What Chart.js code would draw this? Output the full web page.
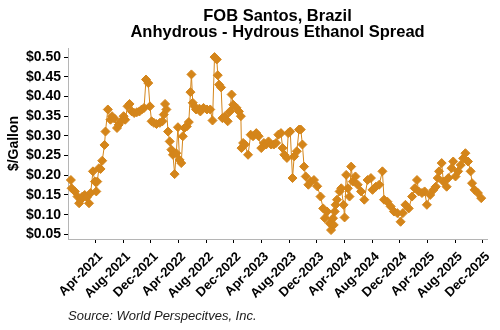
<!DOCTYPE html>
<html><head><meta charset="utf-8">
<script src="https://cdn.jsdelivr.net/npm/chart.js@4"></script>
<style>html,body{margin:0;padding:0;background:#fff}#wrap{width:500px;height:330px}</style>
</head><body><div id="wrap"><canvas id="c" width="500" height="330"></canvas></div>
<script>
const titleLines = ['FOB Santos, Brazil', 'Anhydrous - Hydrous Ethanol Spread'];
const yAxisTitle = '$/Gallon';
const sourceNote = 'Source: World Perspecitves, Inc.';

// x position of each observation, in months since 1 Jan 2021
const monthPos = [
 -0.58,-0.48,-0.01,0.37,0.61,0.85,1.09,1.42,1.71,2.04,2.28,2.61,2.90,3.09,3.23,3.47,3.71,3.95,4.28,4.42,
 4.76,5.14,5.37,5.71,6.09,6.33,6.66,7.04,7.28,7.61,7.90,8.23,8.57,8.95,9.33,9.66,10.0,10.28,10.61,10.85,
 11.09,11.42,11.80,12.28,12.66,12.85,13.04,13.23,13.47,13.71,13.95,14.18,14.42,14.66,14.90,15.14,15.38,15.61,15.85,16.18,
 16.47,16.71,16.85,17.04,17.28,17.52,18.00,
 18.14,18.60,19.10,19.57,19.90,20.19,20.52,20.66,20.85,21.14,21.33,21.71,22.09,22.42,22.66,22.90,23.38,23.71,24.00,24.09,
 24.33,24.57,25.04,25.42,25.76,26.23,26.57,26.95,27.33,27.66,28.00,28.38,28.76,29.09,29.42,29.80,30.04,30.28,30.66,30.85,
 31.14,31.47,31.71,32.09,32.42,32.66,32.90,33.14,33.38,33.76,34.09,34.57,35.04,35.52,35.90,36.14,36.47,36.85,37.04,37.33,
 37.43,37.57,37.70,37.90,38.28,38.52,38.85,39.00,39.23,39.47,39.71,39.95,40.19,40.57,40.90,41.38,41.85,42.33,42.81,43.04,
 43.52,44.00,44.47,44.71,45.19,45.66,46.14,46.62,47.10,47.43,47.80,48.28,48.76,49.14,49.47,49.71,50.19,50.57,50.90,51.38,
 51.85,52.19,52.47,52.66,53.04,53.28,53.76,54.00,54.47,54.71,55.04,55.42,55.80,56.14,56.47,56.85,57.23,57.43,57.80,58.28,
 58.76
];
// Anhydrous - hydrous spread, $/gallon
const spread = [
 .188,.167,.159,.146,.129,.138,.146,.150,.144,.129,.155,.210,.184,.159,.184,.218,.216,.237,.277,.311,
 .367,.341,.350,.344,.320,.328,.337,.350,.341,.375,.381,.362,.358,.360,.362,.367,.371,.443,.434,.375,
 .337,.333,.330,.333,.337,.354,.381,.367,.311,.286,.265,.252,.203,.256,.322,.239,.231,.299,.320,.324,
 .335,.411,.456,.384,.375,.367,.369,
 .362,.371,.367,.367,.339,.500,.494,.454,.430,.423,.345,.350,.337,.362,.405,.379,.371,.362,.350,.269,
 .282,.278,.252,.303,.299,.307,.299,.269,.282,.278,.286,.278,.278,.282,.303,.307,.269,.252,.244,.307,
 .311,.193,.248,.261,.316,.316,.278,.222,.197,.176,.184,.188,.172,.146,.116,.091,.108,.078,.061,.091,
 .074,.108,.125,.138,.159,.167,.125,.093,.201,.167,.146,.222,.184,.197,.176,.159,.138,.188,.193,.163,
 .171,.176,.210,.138,.133,.121,.108,.104,.082,.104,.125,.116,.146,.167,.188,.159,.155,.159,.125,.150,
 .163,.171,.193,.210,.231,.184,.171,.193,.218,.235,.197,.210,.226,.243,.256,.235,.210,.180,.163,.155,
 .142
];

const tickMonthPos = [3,7,11,15,19,23,27,31,35,39,43,47,51,55,59];
const tickLabels = ['Apr-2021','Aug-2021','Dec-2021','Apr-2022','Aug-2022','Dec-2022','Apr-2023','Aug-2023',
  'Dec-2023','Apr-2024','Aug-2024','Dec-2024','Apr-2025','Aug-2025','Dec-2025'];
const yTickValues = [0.05,0.10,0.15,0.20,0.25,0.30,0.35,0.40,0.45,0.50];

const FONT = "'Liberation Sans', Arial, sans-serif";
const LINE_COLOR = '#D4851A';

const textPlugin = {
  id: 'textPlugin',
  afterDraw(chart) {
    const ctx = chart.ctx, a = chart.chartArea;
    ctx.save();
    ctx.fillStyle = '#000';
    ctx.textAlign = 'center';
    ctx.textBaseline = 'middle';
    ctx.font = 'bold 16.5px ' + FONT;
    const cx = (a.left + a.right) / 2;
    ctx.fillText(titleLines[0], cx, 16);
    ctx.fillText(titleLines[1], cx, 32.5);
    ctx.font = 'italic 13px ' + FONT;
    ctx.textAlign = 'left';
    ctx.fillStyle = '#1a1a1a';
    ctx.fillText(sourceNote, 68, 316);
    ctx.restore();
  }
};

new Chart(document.getElementById('c'), {
  type: 'line',
  data: {
    datasets: [{
      data: monthPos.map((m, i) => ({x: m, y: spread[i]})),
      borderColor: LINE_COLOR,
      backgroundColor: LINE_COLOR,
      borderWidth: 1,
      pointStyle: 'rectRot',
      pointRadius: 4.5,
      pointBackgroundColor: LINE_COLOR,
      pointBorderColor: LINE_COLOR,
      pointBorderWidth: 1,
      tension: 0,
      clip: false
    }]
  },
  options: {
    responsive: false,
    devicePixelRatio: 1,
    animation: false,
    layout: { autoPadding: false, padding: { top: 48, right: 8, bottom: 0, left: 0 } },
    plugins: { legend: { display: false }, tooltip: { enabled: false }, title: { display: false } },
    scales: {
      x: {
        type: 'linear',
        min: -1, max: 59.6,
        afterBuildTicks: s => { s.ticks = tickMonthPos.map(v => ({ value: v })); },
        afterFit: s => { s.height = 91; },
        ticks: {
          autoSkip: false, maxRotation: 45, minRotation: 45, padding: 6, labelOffset: 5,
          color: '#000', font: { family: FONT, size: 13, weight: 'bold' },
          callback: v => tickLabels[tickMonthPos.indexOf(v)]
        },
        grid: { drawOnChartArea: false, drawTicks: true, tickLength: 4, color: '#000' },
        border: { display: true, color: '#b5b5b5', width: 1 }
      },
      y: {
        min: 0.0383, max: 0.523,
        afterBuildTicks: s => { s.ticks = yTickValues.map(v => ({ value: v })); },
        afterFit: s => { s.width = 68; },
        ticks: {
          padding: 3, color: '#000', font: { family: FONT, size: 14, weight: 'bold' },
          callback: v => '$' + Number(v).toFixed(2)
        },
        grid: { drawOnChartArea: false, drawTicks: true, tickLength: 4, color: '#000' },
        border: { display: true, color: '#b5b5b5', width: 1 },
        title: { display: true, text: yAxisTitle, color: '#000', padding: { top: 6, bottom: 0 },
          font: { family: FONT, size: 14, weight: 'bold' } }
      }
    }
  },
  plugins: [textPlugin]
});
</script>
</body></html>
